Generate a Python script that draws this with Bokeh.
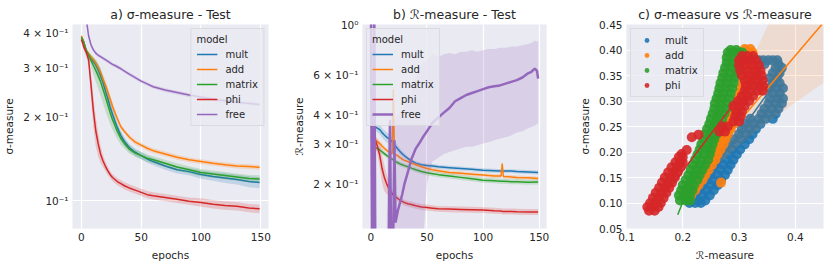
from bokeh.plotting import figure
from bokeh.layouts import row
from bokeh.models import FixedTicker, NumeralTickFormatter
from bokeh.embed import file_html
from bokeh.resources import INLINE

MODELS = ["mult", "add", "matrix", "phi", "free"]
COLORS = ["#1f77b4", "#ff7f0e", "#2ca02c", "#d62728", "#9467bd"]

# ---------------- panel a : sigma-measure (test) ----------------
epochs_a = [0, 2, 4, 6, 8, 10, 12, 14, 16, 18, 20, 22, 24, 26, 28, 30, 33, 36, 40, 45,
            50, 55, 60, 70, 80, 90, 100, 110, 120, 130, 140, 149]
sigma_mult = [0.385, 0.37, 0.345, 0.332, 0.322, 0.315, 0.306, 0.294, 0.28, 0.265, 0.248, 0.233,
              0.217, 0.204, 0.193, 0.183, 0.171, 0.163, 0.155, 0.149, 0.145, 0.141, 0.138, 0.133,
              0.129, 0.127, 0.124, 0.122, 0.1205, 0.119, 0.117, 0.116]
sigma_add = [0.39, 0.37, 0.346, 0.336, 0.328, 0.32, 0.311, 0.3, 0.288, 0.273, 0.26, 0.246,
             0.232, 0.218, 0.207, 0.197, 0.184, 0.177, 0.169, 0.162, 0.158, 0.154, 0.151, 0.147,
             0.143, 0.14, 0.138, 0.136, 0.1345, 0.133, 0.1325, 0.1316]
sigma_matrix = [0.385, 0.37, 0.345, 0.333, 0.318, 0.305, 0.293, 0.28, 0.267, 0.251, 0.236, 0.221,
                0.207, 0.195, 0.186, 0.177, 0.167, 0.16, 0.153, 0.148, 0.145, 0.142, 0.14, 0.136,
                0.132, 0.129, 0.126, 0.1245, 0.123, 0.1215, 0.12, 0.1196]
sigma_phi = [0.378, 0.355, 0.34, 0.32, 0.26, 0.21, 0.178, 0.16, 0.147, 0.139, 0.133, 0.128,
             0.124, 0.121, 0.119, 0.117, 0.115, 0.113, 0.111, 0.109, 0.107, 0.105, 0.104, 0.1025,
             0.101, 0.0995, 0.0985, 0.097, 0.096, 0.0955, 0.094, 0.0934]
sigma_free = [0.6, 0.52, 0.45, 0.39, 0.362, 0.347, 0.338, 0.332, 0.328, 0.324, 0.32, 0.316,
              0.312, 0.308, 0.305, 0.302, 0.297, 0.291, 0.284, 0.276, 0.268, 0.262, 0.256, 0.249,
              0.244, 0.239, 0.235, 0.231, 0.228, 0.225, 0.223, 0.221]
# relative half-width of the confidence band
spread_a_mult = [0.01, 0.01, 0.015, 0.02, 0.025, 0.03, 0.04, 0.05, 0.06, 0.06, 0.06, 0.06,
                 0.06, 0.055, 0.05, 0.045, 0.04, 0.035, 0.03, 0.03, 0.03, 0.03, 0.03, 0.03,
                 0.03, 0.03, 0.035, 0.035, 0.04, 0.04, 0.045, 0.045]
spread_a_add = [0.01, 0.01, 0.01, 0.015, 0.02, 0.025, 0.03, 0.035, 0.04, 0.04, 0.04, 0.04,
                0.035, 0.03, 0.03, 0.025, 0.02, 0.02, 0.02, 0.02, 0.02, 0.02, 0.02, 0.02,
                0.02, 0.02, 0.02, 0.02, 0.02, 0.02, 0.02, 0.02]
spread_a_matrix = [0.01, 0.015, 0.02, 0.03, 0.05, 0.07, 0.09, 0.1, 0.11, 0.11, 0.11, 0.1,
                   0.09, 0.08, 0.07, 0.06, 0.05, 0.04, 0.035, 0.03, 0.03, 0.03, 0.03, 0.03,
                   0.03, 0.03, 0.03, 0.03, 0.03, 0.03, 0.03, 0.03]
spread_a_phi = [0.01, 0.02, 0.03, 0.05, 0.1, 0.13, 0.12, 0.1, 0.07, 0.05, 0.04, 0.035,
                0.03, 0.03, 0.03, 0.03, 0.03, 0.03, 0.03, 0.03, 0.03, 0.03, 0.03, 0.03,
                0.03, 0.03, 0.035, 0.035, 0.035, 0.035, 0.035, 0.035]
spread_a_free = [0.03, 0.03, 0.03, 0.02, 0.02, 0.015, 0.015, 0.015, 0.015, 0.015, 0.015, 0.015,
                 0.015, 0.015, 0.015, 0.015, 0.015, 0.015, 0.015, 0.015, 0.015, 0.015, 0.015, 0.015,
                 0.015, 0.015, 0.015, 0.015, 0.015, 0.015, 0.015, 0.015]
yticks_a = [0.1, 0.2, 0.3, 0.4]
ylabels_a = ["10⁻¹", "2 × 10⁻¹", "3 × 10⁻¹", "4 × 10⁻¹"]

# ---------------- panel b : R-measure (test) ----------------
epochs_b = [0, 2, 4, 6, 8, 10, 12, 14, 16, 18, 19, 20, 21, 22, 24, 26, 28, 30, 33, 36, 40, 45,
            50, 55, 60, 70, 80, 90, 100, 110, 116, 117, 118, 125, 130, 140, 149]
r_mult = [0.355, 0.36, 0.355, 0.35, 0.345, 0.335, 0.327, 0.32, 0.315, 0.31, 0.306, 0.3, 0.296,
          0.292, 0.284, 0.277, 0.27, 0.265, 0.258, 0.252, 0.246, 0.242, 0.24, 0.239, 0.237, 0.235,
          0.233, 0.231, 0.229, 0.228, 0.227, 0.228, 0.227, 0.227, 0.226, 0.225, 0.224]
r_add = [0.32, 0.315, 0.31, 0.305, 0.3, 0.292, 0.286, 0.28, 0.276, 0.272, 0.27, 0.52, 0.27,
         0.268, 0.265, 0.26, 0.256, 0.253, 0.25, 0.246, 0.242, 0.237, 0.233, 0.23, 0.228, 0.224,
         0.222, 0.22, 0.218, 0.216, 0.216, 0.245, 0.215, 0.214, 0.213, 0.212, 0.2105]
r_matrix = [0.285, 0.29, 0.288, 0.285, 0.281, 0.276, 0.271, 0.266, 0.262, 0.258, 0.256, 0.254,
            0.252, 0.25, 0.247, 0.244, 0.242, 0.24, 0.237, 0.234, 0.23, 0.226, 0.223, 0.221,
            0.219, 0.216, 0.213, 0.21, 0.207, 0.206, 0.205, 0.205, 0.205, 0.204, 0.204, 0.203, 0.2035]
r_phi = [0.32, 0.318, 0.31, 0.29, 0.265, 0.233, 0.213, 0.2, 0.19, 0.184, 0.181, 0.178, 0.176,
         0.175, 0.172, 0.169, 0.167, 0.165, 0.163, 0.162, 0.16, 0.158, 0.157, 0.156, 0.155, 0.1545,
         0.154, 0.1535, 0.153, 0.152, 0.1515, 0.151, 0.151, 0.151, 0.1505, 0.15, 0.15]
spread_b_mult = [0.03, 0.03, 0.035, 0.04, 0.045, 0.05, 0.05, 0.05, 0.05, 0.045, 0.045, 0.045,
                 0.04, 0.04, 0.035, 0.03, 0.03, 0.025, 0.02, 0.02, 0.02, 0.02, 0.02, 0.02,
                 0.02, 0.02, 0.02, 0.02, 0.02, 0.02, 0.02, 0.02, 0.02, 0.02, 0.02, 0.02, 0.02]
spread_b_add = [0.03, 0.03, 0.03, 0.03, 0.03, 0.03, 0.02, 0.02, 0.02, 0.02, 0.02, 0.02,
                0.02, 0.02, 0.02, 0.02, 0.02, 0.02, 0.02, 0.02, 0.02, 0.02, 0.02, 0.02,
                0.02, 0.02, 0.02, 0.02, 0.02, 0.02, 0.02, 0.02, 0.02, 0.02, 0.02, 0.02, 0.02]
spread_b_matrix = [0.03, 0.03, 0.03, 0.03, 0.03, 0.03, 0.025, 0.025, 0.025, 0.025, 0.025, 0.025,
                   0.025, 0.025, 0.025, 0.025, 0.025, 0.025, 0.025, 0.025, 0.025, 0.025, 0.025, 0.025,
                   0.025, 0.025, 0.025, 0.025, 0.025, 0.025, 0.025, 0.025, 0.025, 0.025, 0.025, 0.025, 0.025]
spread_b_phi = [0.02, 0.03, 0.05, 0.08, 0.12, 0.14, 0.13, 0.1, 0.07, 0.05, 0.04, 0.04,
                0.035, 0.03, 0.03, 0.03, 0.03, 0.03, 0.03, 0.03, 0.03, 0.03, 0.03, 0.03,
                0.03, 0.03, 0.03, 0.03, 0.03, 0.03, 0.03, 0.03, 0.03, 0.03, 0.03, 0.03, 0.03]
epochs_b_free = [0, 1, 2, 3, 4, 6, 8, 10, 12, 14, 15, 16, 17, 18, 19, 20, 21, 22, 24, 26, 28, 30,
                 33, 36, 40, 43, 46, 50, 55, 60, 65, 70, 75, 80, 85, 90, 95, 100, 105, 110, 115,
                 120, 125, 130, 135, 140, 143, 146, 148, 149]
r_free = [1.4, 0.09, 0.085, 1.3, 0.09, 0.1, 0.1, 0.1, 0.1, 0.105, 0.11, 0.115, 0.38, 0.115, 0.12,
          0.125, 0.31, 0.135, 0.152, 0.165, 0.18, 0.2, 0.225, 0.255, 0.285, 0.3, 0.318, 0.34, 0.37,
          0.39, 0.41, 0.43, 0.46, 0.475, 0.49, 0.5, 0.51, 0.52, 0.53, 0.535, 0.54, 0.55, 0.56, 0.57,
          0.585, 0.61, 0.62, 0.64, 0.625, 0.578]
r_free_lo = [0.05, 0.05, 0.05, 0.05, 0.05, 0.05, 0.05, 0.05, 0.05, 0.05, 0.05, 0.05, 0.05, 0.05,
             0.05, 0.05, 0.05, 0.05, 0.05, 0.05, 0.05, 0.05, 0.05, 0.05, 0.05, 0.06, 0.1, 0.2, 0.25,
             0.26, 0.27, 0.275, 0.28, 0.285, 0.29, 0.29, 0.295, 0.3, 0.305, 0.31, 0.315, 0.32, 0.325,
             0.335, 0.34, 0.35, 0.355, 0.36, 0.365, 0.368]
r_free_hi = [1.5, 1.5, 1.5, 1.5, 0.11, 0.11, 0.11, 0.11, 0.11, 0.12, 0.3, 0.33, 0.4, 0.39, 0.38,
             0.38, 0.38, 0.39, 0.4, 0.41, 0.42, 0.44, 0.47, 0.51, 0.58, 0.63, 0.67, 0.7, 0.74, 0.72,
             0.74, 0.75, 0.74, 0.76, 0.76, 0.77, 0.76, 0.77, 0.78, 0.78, 0.79, 0.79, 0.8, 0.8, 0.81,
             0.82, 0.83, 0.85, 0.84, 0.85]
yticks_b = [0.2, 0.3, 0.4, 0.6, 1.0]
ylabels_b = ["2 × 10⁻¹", "3 × 10⁻¹", "4 × 10⁻¹", "6 × 10⁻¹", "10⁰"]

# ---------------- panel c : sigma vs R scatter ----------------
# each row: sigma value, then the R values of the points read on that row
rows_mult = [
    (0.100, [0.212, 0.222, 0.232]), (0.105, [0.215, 0.228, 0.24]),
    (0.115, [0.22, 0.235, 0.248]), (0.125, [0.228, 0.242, 0.255]),
    (0.135, [0.235, 0.25, 0.262]), (0.145, [0.242, 0.255, 0.268]),
    (0.155, [0.248, 0.262, 0.275]), (0.165, [0.252, 0.267, 0.28]),
    (0.175, [0.258, 0.272, 0.285]), (0.185, [0.262, 0.278, 0.29]),
    (0.195, [0.265, 0.283, 0.296]), (0.205, [0.27, 0.288, 0.302]),
    (0.215, [0.28, 0.295, 0.31]), (0.225, [0.29, 0.305, 0.318]),
    (0.235, [0.3, 0.313, 0.324]), (0.245, [0.305, 0.318, 0.33]),
    (0.255, [0.31, 0.325, 0.338]), (0.265, [0.32, 0.335, 0.347, 0.36]),
    (0.275, [0.34, 0.352, 0.365]), (0.285, [0.345, 0.358, 0.37]),
    (0.295, [0.352, 0.365, 0.376]), (0.305, [0.355, 0.368, 0.378]),
    (0.315, [0.36, 0.372]), (0.325, [0.355, 0.367, 0.378]),
    (0.335, [0.36, 0.372]), (0.345, [0.355, 0.368]),
    (0.355, [0.36, 0.372]), (0.365, [0.365, 0.376]),
    (0.372, [0.345, 0.37]), (0.380, [0.335, 0.343, 0.352, 0.36, 0.368]),
]
rows_add = [
    (0.115, [0.205, 0.215]), (0.125, [0.212, 0.222]), (0.135, [0.218, 0.228]),
    (0.14, [0.268]), (0.145, [0.225, 0.235]), (0.155, [0.23, 0.24]),
    (0.165, [0.236, 0.246]), (0.175, [0.242, 0.252]), (0.185, [0.248, 0.258]),
    (0.195, [0.252, 0.262]), (0.205, [0.256, 0.267]), (0.215, [0.26, 0.272]),
    (0.225, [0.265, 0.276]), (0.235, [0.27, 0.28]), (0.245, [0.275, 0.285]),
    (0.255, [0.28, 0.29]), (0.265, [0.283, 0.293]), (0.275, [0.287, 0.297]),
    (0.285, [0.29, 0.3]), (0.295, [0.294, 0.304]), (0.305, [0.297, 0.307]),
    (0.315, [0.3, 0.31]), (0.325, [0.303, 0.313]), (0.335, [0.306, 0.318]),
    (0.345, [0.31, 0.32]), (0.355, [0.312, 0.323]), (0.365, [0.315, 0.325]),
    (0.375, [0.318, 0.325]), (0.385, [0.31, 0.322]), (0.395, [0.306, 0.316, 0.324]),
    (0.402, [0.31, 0.32]),
]
rows_matrix = [
    (0.105, [0.195, 0.205, 0.213]), (0.115, [0.193, 0.203, 0.213]),
    (0.125, [0.197, 0.207, 0.217]), (0.135, [0.2, 0.21, 0.22]),
    (0.145, [0.205, 0.215, 0.226]), (0.155, [0.21, 0.22, 0.23]),
    (0.165, [0.214, 0.225, 0.235]), (0.175, [0.218, 0.23, 0.24]),
    (0.185, [0.222, 0.233, 0.245]), (0.195, [0.226, 0.237, 0.248]),
    (0.205, [0.23, 0.241, 0.25]), (0.215, [0.233, 0.244, 0.253]),
    (0.225, [0.237, 0.248, 0.256]), (0.235, [0.24, 0.25, 0.26]),
    (0.245, [0.243, 0.253, 0.263]), (0.255, [0.247, 0.257, 0.266]),
    (0.265, [0.25, 0.26, 0.27]), (0.275, [0.253, 0.263, 0.274]),
    (0.285, [0.256, 0.266, 0.278]), (0.295, [0.257, 0.268, 0.28]),
    (0.305, [0.26, 0.27, 0.283]), (0.315, [0.263, 0.273, 0.285]),
    (0.325, [0.265, 0.276, 0.288]), (0.335, [0.267, 0.278, 0.29]),
    (0.345, [0.27, 0.28, 0.292]), (0.355, [0.272, 0.283, 0.295]),
    (0.365, [0.275, 0.285, 0.297]), (0.375, [0.278, 0.288, 0.3]),
    (0.385, [0.278, 0.29, 0.302]), (0.395, [0.28, 0.29, 0.3, 0.306]),
    (0.400, [0.285, 0.295]),
]
rows_phi = [
    (0.085, [0.14, 0.15]), (0.092, [0.137, 0.147, 0.157]),
    (0.100, [0.142, 0.152, 0.161]), (0.110, [0.147, 0.157, 0.166]),
    (0.120, [0.152, 0.162, 0.171]), (0.130, [0.158, 0.168, 0.176]),
    (0.140, [0.163, 0.173, 0.181]), (0.150, [0.168, 0.178, 0.186]),
    (0.160, [0.174, 0.184, 0.191]), (0.170, [0.18, 0.19, 0.196]),
    (0.180, [0.187, 0.195, 0.2]), (0.190, [0.193, 0.2]),
    (0.196, [0.198]), (0.204, [0.207]), (0.229, [0.216]), (0.234, [0.228]),
    (0.240, [0.265, 0.275]), (0.250, [0.27, 0.28]),
    (0.260, [0.29, 0.3]), (0.270, [0.293, 0.303]), (0.280, [0.295, 0.305]),
    (0.290, [0.29, 0.3, 0.31]), (0.300, [0.298, 0.308, 0.318]),
    (0.310, [0.305, 0.315, 0.325]), (0.320, [0.31, 0.322, 0.333, 0.342]),
    (0.330, [0.312, 0.325, 0.336, 0.343]), (0.340, [0.31, 0.322, 0.334, 0.342]),
    (0.350, [0.305, 0.318, 0.33, 0.34]), (0.360, [0.302, 0.315, 0.328, 0.338]),
    (0.370, [0.3, 0.312, 0.325, 0.335]), (0.380, [0.3, 0.31, 0.32, 0.33]),
    (0.388, [0.305, 0.315, 0.325]),
]
# regression lines (end points) and confidence band of "add"
fit_mult_r = [0.212, 0.381]
fit_mult_s = [0.10, 0.362]
fit_add_r = [0.197, 0.447]
fit_add_s = [0.126, 0.45]
fit_matrix_r = [0.191, 0.30]
fit_matrix_s = [0.077, 0.378]
fit_phi_r = [0.145, 0.339]
fit_phi_s = [0.083, 0.365]
band_add_r = [0.197, 0.22, 0.25, 0.28, 0.30, 0.33, 0.36, 0.40, 0.45]
band_add_lo = [0.118, 0.14, 0.165, 0.193, 0.212, 0.24, 0.265, 0.297, 0.336]
band_add_hi = [0.132, 0.16, 0.2, 0.27, 0.326, 0.398, 0.47, 0.56, 0.66]

FONT = "DejaVu Sans"
TXT = "#262626"


def flatten(rows):
    rs, ss = [], []
    for s, rlist in rows:
        for r in rlist:
            rs.append(r)
            ss.append(s)
    return rs, ss


def style(p, title):
    p.background_fill_color = "#EAEAF2"
    p.border_fill_color = "white"
    p.outline_line_color = None
    p.title.text = title
    p.title.text_font = FONT
    p.title.text_font_size = "12.5px"
    p.title.text_font_style = "normal"
    p.title.text_color = TXT
    p.title.align = "center"
    p.title.standoff = 5
    for ax in p.axis:
        ax.axis_line_color = None
        ax.major_tick_line_color = None
        ax.minor_tick_line_color = None
        ax.major_tick_out = 0
        ax.major_tick_in = 0
        ax.major_label_text_font = FONT
        ax.major_label_text_font_size = "10.5px"
        ax.major_label_text_color = TXT
        ax.major_label_standoff = 4
        ax.axis_label_text_font = FONT
        ax.axis_label_text_font_size = "10.5px"
        ax.axis_label_text_font_style = "normal"
        ax.axis_label_text_color = TXT
        ax.axis_label_standoff = 5
    for g in p.grid:
        g.grid_line_color = "white"
        g.grid_line_width = 1.2


def style_legend(lg, loc, title=None):
    lg.location = loc
    if title:
        lg.title = title
        lg.title_text_font = FONT
        lg.title_text_font_size = "10px"
        lg.title_text_font_style = "normal"
        lg.title_text_color = TXT
        lg.title_standoff = 3
    lg.label_text_font = FONT
    lg.label_text_font_size = "10px"
    lg.label_text_color = TXT
    lg.glyph_width = 21
    lg.glyph_height = 12
    lg.label_height = 12
    lg.spacing = 3
    lg.padding = 5
    lg.margin = 4
    lg.label_standoff = 8
    lg.border_line_color = "#cccccc"
    lg.background_fill_color = "#EAEAF2"
    lg.background_fill_alpha = 0.8


common = dict(height=268, output_backend="svg", toolbar_location=None,
              min_border_top=24, min_border_bottom=40)

# ---- panel a ----
pa = figure(width=290, y_axis_type="log", x_range=(-7.45, 156.45), y_range=(0.0794, 0.428),
            min_border_left=72, min_border_right=22, **common)
series_a = [sigma_mult, sigma_add, sigma_matrix, sigma_phi, sigma_free]
spreads_a = [spread_a_mult, spread_a_add, spread_a_matrix, spread_a_phi, spread_a_free]
for name, col, vals, spr in zip(MODELS, COLORS, series_a, spreads_a):
    lo = [v * (1 - s) for v, s in zip(vals, spr)]
    hi = [v * (1 + s) for v, s in zip(vals, spr)]
    pa.varea(x=epochs_a, y1=lo, y2=hi, fill_color=col, fill_alpha=0.2)
    pa.line(epochs_a, vals, line_color=col, line_width=1.5, legend_label=name)
style(pa, "a) σ-measure - Test")
pa.xaxis.ticker = FixedTicker(ticks=[0, 50, 100, 150])
pa.yaxis.ticker = FixedTicker(ticks=yticks_a)
pa.yaxis.major_label_overrides = dict(zip(yticks_a, ylabels_a))
pa.ygrid.ticker = FixedTicker(ticks=[0.1])
pa.xaxis.axis_label = "epochs"
pa.yaxis.axis_label = "σ-measure"
style_legend(pa.legend[0], "top_right", "model")

# ---- panel b ----
pb = figure(width=276, y_axis_type="log", x_range=(-7.45, 156.45), y_range=(0.127, 1.0),
            min_border_left=63, min_border_right=20, **common)
series_b = [r_mult, r_add, r_matrix, r_phi]
spreads_b = [spread_b_mult, spread_b_add, spread_b_matrix, spread_b_phi]
for name, col, vals, spr in zip(MODELS[:4], COLORS[:4], series_b, spreads_b):
    lo = [v * (1 - s) for v, s in zip(vals, spr)]
    hi = [v * (1 + s) for v, s in zip(vals, spr)]
    pb.varea(x=epochs_b, y1=lo, y2=hi, fill_color=col, fill_alpha=0.2)
    pb.line(epochs_b, vals, line_color=col, line_width=1.5, legend_label=name)
pb.varea(x=epochs_b_free, y1=r_free_lo, y2=r_free_hi, fill_color=COLORS[4], fill_alpha=0.2)
pb.line(epochs_b_free, r_free, line_color=COLORS[4], line_width=2.5, legend_label="free")
style(pb, "b) ℛ-measure - Test")
pb.xaxis.ticker = FixedTicker(ticks=[0, 50, 100, 150])
pb.yaxis.ticker = FixedTicker(ticks=yticks_b)
pb.yaxis.major_label_overrides = dict(zip(yticks_b, ylabels_b))
pb.ygrid.ticker = FixedTicker(ticks=[1.0])
pb.xaxis.axis_label = "epochs"
pb.yaxis.axis_label = "ℛ-measure"
style_legend(pb.legend[0], "top_left", "model")

# ---- panel c ----
pc = figure(width=265, x_range=(0.1, 0.45), y_range=(0.05, 0.45),
            min_border_left=60, min_border_right=8, **common)
sc = [flatten(rows_mult), flatten(rows_add), flatten(rows_matrix), flatten(rows_phi)]
fits = [(fit_mult_r, fit_mult_s), (fit_add_r, fit_add_s),
        (fit_matrix_r, fit_matrix_s), (fit_phi_r, fit_phi_s)]
for i in range(4):
    pc.scatter(sc[i][0], sc[i][1], size=10, fill_color=COLORS[i], fill_alpha=0.9,
               line_color=None, legend_label=MODELS[i])
    if i == 1:
        pc.varea(x=band_add_r, y1=band_add_lo, y2=band_add_hi, fill_color=COLORS[1],
                 fill_alpha=0.15)
    pc.line(fits[i][0], fits[i][1], line_color=COLORS[i], line_width=1.5)
style(pc, "c) σ-measure vs ℛ-measure")
pc.xaxis.ticker = FixedTicker(ticks=[0.1, 0.2, 0.3, 0.4])
pc.yaxis.ticker = FixedTicker(ticks=[0.05, 0.1, 0.15, 0.2, 0.25, 0.3, 0.35, 0.4, 0.45])
pc.xaxis.formatter = NumeralTickFormatter(format="0.0")
pc.yaxis.formatter = NumeralTickFormatter(format="0.00")
pc.xaxis.axis_label = "ℛ-measure"
pc.yaxis.axis_label = "σ-measure"
style_legend(pc.legend[0], "top_left")

layout = row(pa, pb, pc)
open("out.html", "w").write(file_html(layout, INLINE))
